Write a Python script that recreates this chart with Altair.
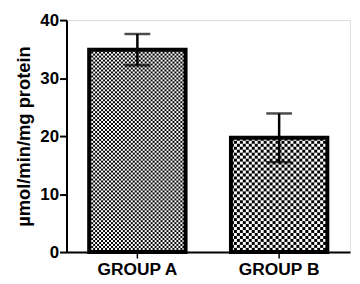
import altair as alt
import pandas as pd
from urllib.parse import quote

groups = ["GROUP A", "GROUP B"]
means = [34.9, 19.7]
sems = [2.7, 4.2]

df = pd.DataFrame({"group": groups, "mean": means, "sem": sems})
df["lo"] = df["mean"] - df["sem"]
df["hi"] = df["mean"] + df["sem"]


def checker(c):
    s = 2 * c
    svg = (
        "<svg xmlns='http://www.w3.org/2000/svg' width='100%' height='100%'>"
        f"<defs><pattern id='p' width='{s}' height='{s}' patternUnits='userSpaceOnUse'>"
        f"<rect width='{s}' height='{s}' fill='white'/>"
        f"<rect width='{c}' height='{c}' fill='black'/>"
        f"<rect x='{c}' y='{c}' width='{c}' height='{c}' fill='black'/>"
        "</pattern></defs><rect width='100%' height='100%' fill='url(#p)'/></svg>"
    )
    return "data:image/svg+xml;charset=utf-8," + quote(svg)


FONT = "Arial"

x = alt.X(
    "group:N",
    sort=groups,
    scale=alt.Scale(paddingInner=0.32, paddingOuter=0.16),
    axis=alt.Axis(
        title=None, labelAngle=0, labelFont=FONT, labelFontSize=17.5,
        labelFontWeight="bold", labelColor="black", tickSize=6, tickWidth=1.5,
        tickColor="black", domainColor="black", domainWidth=2, labelPadding=3,
    ),
)
y = alt.Y(
    "mean:Q",
    scale=alt.Scale(domain=[0, 40]),
    axis=alt.Axis(
        title="µmol/min/mg protein", values=[0, 10, 20, 30, 40], grid=False,
        labelFont=FONT, labelFontSize=17, labelFontWeight="bold", labelColor="black",
        titleFont=FONT, titleFontSize=18.5, titleFontWeight="bold", titleColor="black",
        tickSize=7, tickWidth=2, tickColor="black", domainColor="black",
        domainWidth=2, labelPadding=1, titlePadding=6,
    ),
)

base = alt.Chart(df)

imgA = base.transform_filter(alt.datum.group == groups[0]).mark_image(aspect=False).encode(
    x=x, y=y, y2=alt.datum(0), url=alt.value(checker(2))
)
imgB = base.transform_filter(alt.datum.group == groups[1]).mark_image(aspect=False).encode(
    x=x, y=y, y2=alt.datum(0), url=alt.value(checker(3))
)
outline = base.mark_bar(fillOpacity=0, stroke="black", strokeWidth=4).encode(x=x, y=y)
err = base.mark_rule(color="black", strokeWidth=2.5).encode(x=x, y="lo:Q", y2="hi:Q")
capHi = base.mark_tick(color="black", thickness=2.5, size=26).encode(x=x, y="hi:Q")
capLo = base.mark_tick(color="black", thickness=2.5, size=26).encode(x=x, y="lo:Q")

chart = (
    alt.layer(imgA, imgB, outline, err, capHi, capLo)
    .properties(width=286, height=234, padding={"left": 7, "top": 2, "right": 2, "bottom": 2})
    .configure_view(stroke=None)
    .configure(background="white")
)

chart.save("out.html", embed_options={"renderer": "svg", "actions": False})
